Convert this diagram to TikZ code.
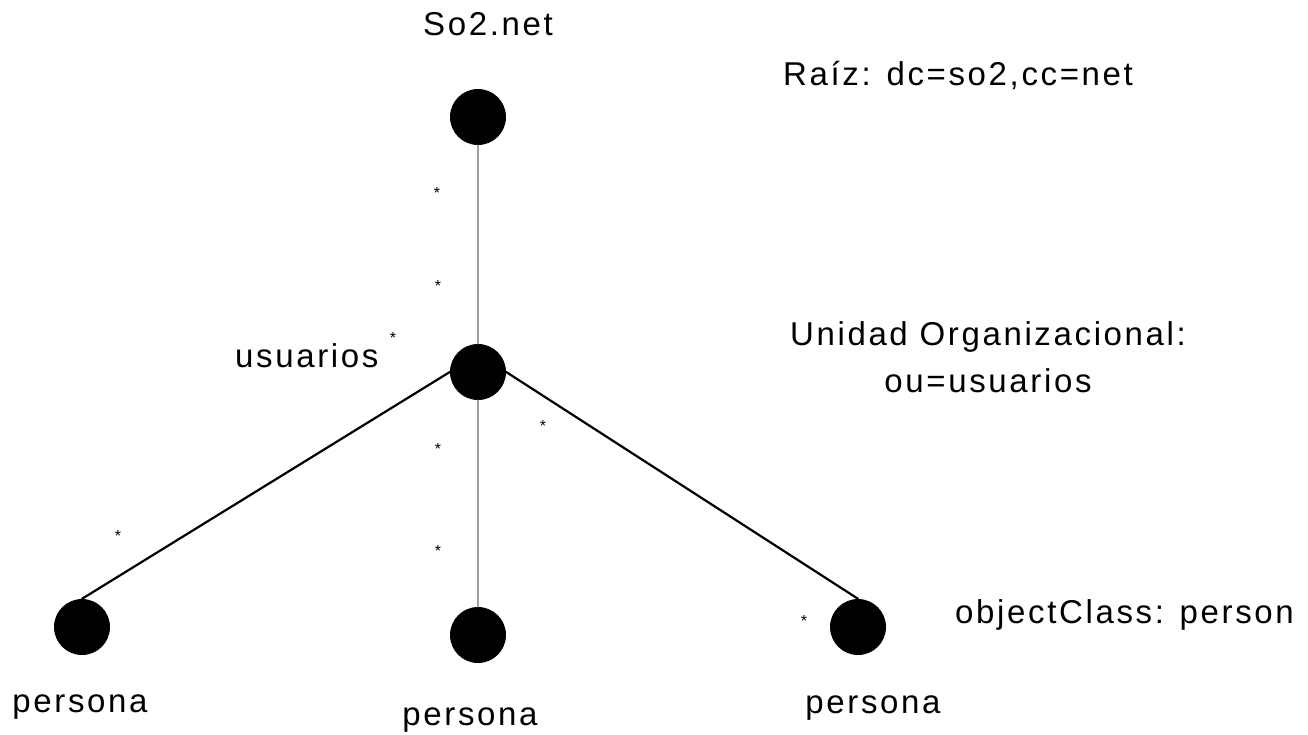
\documentclass[tikz,border=0pt]{standalone}
\usepackage{fontspec}
\setmainfont{Liberation Sans}[LetterSpace=8]
\begin{document}
\begin{tikzpicture}[
			% estilos del arbol
			punto/.style={circle, fill=black, inner sep=0pt, minimum size=56pt}, % nodos negros
			tronco/.style={draw=gray!75, line width=1.5pt}, % linea vertical gris
			rama/.style={draw=black, line width=2.2pt}, % ramas diagonales
			texto/.style={font=\fontsize{33}{47}\selectfont, inner sep=0pt, anchor=base}, % etiquetas
			marca/.style={font=\fontsize{16}{16}\selectfont, inner sep=0pt, anchor=base} % asteriscos
			,x=1pt,y=-1pt,line join=round,line cap=round]
			\useasboundingbox (0,0) rectangle (1308,734);

			% nodos del directorio
			\node[punto] (raiz) at (478,117) {};  % So2.net
			\node[punto] (usu) at (478,372) {};   % ou=usuarios
			\node[punto] (p1) at (82,627) {};     % persona izquierda
			\node[punto] (p2) at (478,635) {};    % persona centro
			\node[punto] (p3) at (858,627) {};    % persona derecha

			% conexiones
			\draw[tronco] (raiz) -- (usu);
			\draw[tronco] (usu) -- (p2);
			\draw[rama] (usu.west) -- (p1.north);
			\draw[rama] (usu.east) -- (p3.north);

			% textos
			\node[texto] (tRaiz) at (488,35) {So2.net};
			\node[texto, anchor=base west] (tDc) at (783,85) {Raíz: dc=so2,cc=net};
			\node[texto, anchor=base west] (tUsu) at (235,367) {usuarios};
			\node[texto, align=center] (tOu) at (988,392) {Unidad Organizacional:\\ou=usuarios};
			\node[texto, anchor=base west] (tClase) at (955,623) {objectClass: person};
			\node[texto] (tP1) at (80,712) {persona};
			\node[texto] (tP2) at (470,725) {persona};
			\node[texto] (tP3) at (873,713) {persona};

			% asteriscos pequenos
			\foreach \x/\y [count=\i] in {437/189, 438/282, 393/334, 438/445, 543/422, 438/547, 118/532, 804/617}
				\node[marca] (ast\i) at (\x,\y+9) {*};

		\end{tikzpicture}
\end{document}
